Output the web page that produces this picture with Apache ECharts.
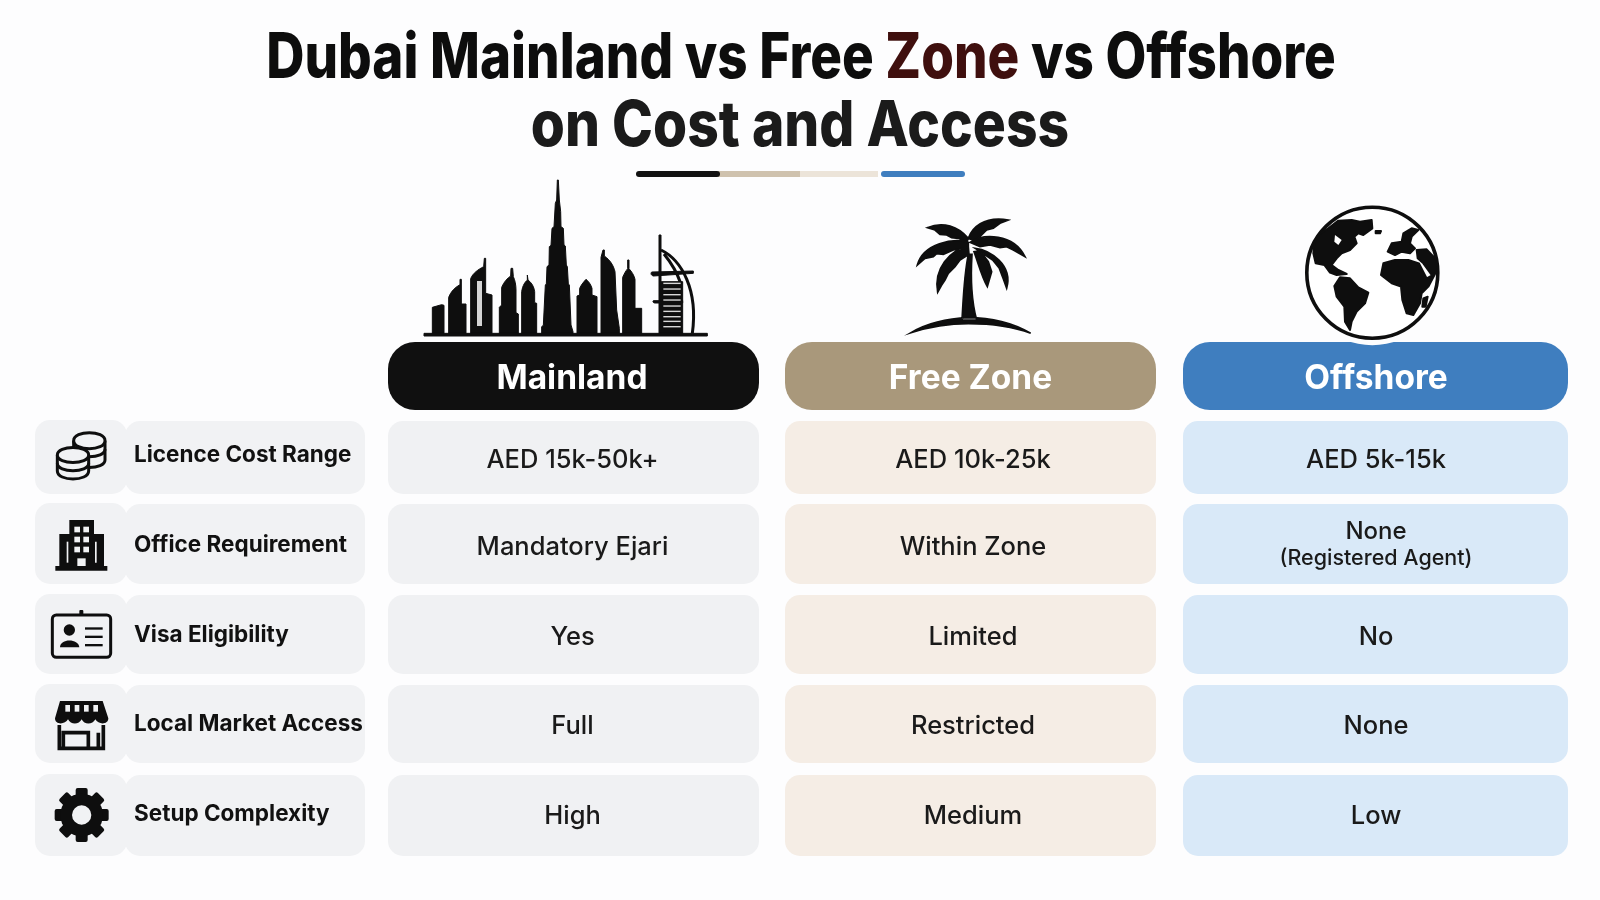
<!DOCTYPE html>
<html>
<head>
<meta charset="utf-8">
<title>Dubai Mainland vs Free Zone vs Offshore</title>
<style>html,body{margin:0;padding:0;background:#fdfdfe}#chart{width:1600px;height:900px}</style>
<script src="https://cdn.jsdelivr.net/npm/echarts@6/dist/echarts.min.js"></script>
</head>
<body>
<div id="chart"></div>
<script>
(function () {
  'use strict';

  // table content
  var columns = ['Mainland', 'Free Zone', 'Offshore'];
  var rowLabels = ['Licence Cost Range', 'Office Requirement', 'Visa Eligibility', 'Local Market Access', 'Setup Complexity'];
  var mainlandValues = ['AED 15k-50k+', 'Mandatory Ejari', 'Yes', 'Full', 'High'];
  var freeZoneValues = ['AED 10k-25k', 'Within Zone', 'Limited', 'Restricted', 'Medium'];
  var offshoreValues = ['AED 5k-15k', 'None\n(Registered Agent)', 'No', 'None', 'Low'];
  var titleLines = ['Dubai Mainland vs Free ', 'Zone', ' vs Offshore', 'on Cost and Access'];

  // layout, in axis units (the axes run 0-1600 / 0-900)
  var colLeft = [388, 785, 1183];
  var colRight = [759, 1156, 1568];
  var colText = [572.5, 973, 1376];
  var headText = [572, 970.5, 1376];
  var rowTop = [421, 504, 595, 685, 775];
  var rowBottom = [494, 584, 674, 763, 856];
  var rowText = [460, 547, 637, 726.5, 816.5];
  var labelText = [455.5, 545.5, 635.5, 724.5, 814.5];

  var headColors = ['#101010', '#a9987b', '#3f7ebf'];
  var cellColors = ['#f0f1f3', '#f5ede5', '#d9e9f8'];
  var panelColor = '#f1f2f4';
  var bgColor = '#fdfdfe';
  var FONT = 'Inter';

  // icon outlines, drawn in crop coordinates and placed with pathEl
  var skyline = [
    'M132 490H982V498H132Z',
    'M157 490V412L185 404L192 406V490Z',
    'M206 490V382C212 365 225 352 240 344V328H244V402H258V490Z',
    'M272 490V326C278 310 295 298 311 290L313 265H317V370L336 375V490Z',
    'M358 490V412L365 405V352C372 335 382 325 392 318L393 295H398L400 320C405 330 408 345 408 360V428L415 432V490Z',
    'M425 490V365C428 345 436 335 442 330V315L444 330C455 338 462 350 464 365V398L470 400V490Z',
    'M485 490V470L490 466L496 345L499 342L501 290L507 285L508 230L513 226L516 175L522 170L526 100L530 90L532 30H535L538 90L542 125L543 170L550 175L552 225L556 228L559 285L562 290L565 342L568 345L573 465L579 485V490Z',
    'M591 490V378L599 375V355C605 342 612 335 618 328C626 335 632 342 636 355V375L651 380V490Z',
    'M663 490V262L669 240H673V258C690 270 700 285 705 305L710 420L718 475V490Z',
    'M728 490V322C733 310 738 302 743 296V270H747V296C755 305 762 315 765 328V415H785V490Z',
    'M837 490V195H843V335H908V490Z',
    'M815 306L940 303V310L820 318C812 315 812 310 815 306Z',
    'M820 392H908V399H824C818 398 818 394 820 392Z'
  ].join('');
  var sailOuter = 'M843 240C905 270 955 360 937 490';
  var sailInner = 'M852 252C875 280 892 310 902 340';
  var palm = [
    'M205 148C192 210 190 280 186 345L230 345C215 290 212 210 216 148Z',
    'M33 383C90 350 150 340 205 338C275 338 340 355 392 385C340 365 270 356 205 356C150 356 90 365 33 383Z',
    'M205 100C175 65 130 48 82 68L105 75L120 88L140 90L155 98L175 100L200 112Z',
    'M205 100C215 70 250 32 325 45L300 55L280 70L260 75L245 90L225 108Z',
    'M205 112C160 98 70 115 52 180L75 160L100 155L110 146L130 148L160 135L205 128Z',
    'M210 112C250 85 340 85 375 155L340 135L320 125L300 128L270 120L240 125Z',
    'M205 125C150 135 100 190 113 262L125 240L135 225L145 205L165 185L180 165L207 148Z',
    'M225 130C270 135 340 180 320 250L310 222L298 190L278 165Z',
    'M222 140C235 175 245 215 262 245L275 200L265 170L240 138Z'
  ].join('');
  var continents = [
    'M100 85L130 62L170 60L195 65L230 60L232 85L205 105L190 100L178 110L185 130L165 150L140 160L125 175L110 195L130 210L155 222L125 225L105 218L88 195L62 190L55 160L58 130L70 105Z',
    'M118 258L135 232L165 235L190 262L220 278L210 310L185 335L170 365L165 390L150 365L148 320L125 290Z',
    'M258 225L265 190L300 180L340 180L372 190L395 235L420 222L400 260L380 280L375 310L355 345L335 340L322 300L318 260L290 250Z',
    'M278 155L290 130L320 125L325 100L350 85L370 90L350 110L345 130L360 145L345 160L320 155L300 165Z',
    'M365 150L395 148L425 180L428 215L410 225L385 190L368 175Z',
    'M385 295L398 290L392 320L382 320Z',
    'M242 93L258 93L255 100L242 100Z'
  ].join('');
  var buildingPath = 'M148 330H222V372H252V468H262V482H106V468H118V372H148Z';
  var awningPath = 'M120 873H248L265 925C265 945 235 945 226 928C218 945 192 945 185 928C177 945 152 945 144 928C135 945 105 945 105 925Z';

  function textEl(x, y, text, size, weight, color, scaleX) {
    return {
      type: 'text', x: x, y: y, scaleX: scaleX || 1, silent: true,
      style: { text: text, fill: color, align: 'center', verticalAlign: 'middle', fontFamily: FONT, fontSize: size, fontWeight: weight }
    };
  }

  function pathEl(api, ox, oy, s, d, style) {
    var p = api.coord([ox, oy]);
    return { type: 'path', x: p[0], y: p[1], scaleX: s, scaleY: s, shape: { pathData: d }, style: style };
  }

  function roundBox(api, x0, y0, x1, y1, r, fill) {
    var a = api.coord([x0, y0]), b = api.coord([x1, y1]);
    return { type: 'rect', shape: { x: a[0], y: a[1], width: b[0] - a[0], height: b[1] - a[1], r: r }, style: { fill: fill } };
  }

  function renderTitle(params, api) {
    var a = api.coord([801, 59]), b = api.coord([800, 127]);
    var line1 = textEl(a[0], a[1], '{k|' + titleLines[0] + '}{z|' + titleLines[1] + '}{k|' + titleLines[2] + '}', 63, 800, '#0d0d0d', 0.84);
    line1.style.rich = {
      k: { fill: '#0d0d0d', fontFamily: FONT, fontSize: 63, fontWeight: 800 },
      z: { fill: '#3f0f0e', fontFamily: FONT, fontSize: 63, fontWeight: 800 }
    };
    return { type: 'group', children: [line1, textEl(b[0], b[1], titleLines[3], 63, 800, '#1b1b1b', 0.875)] };
  }

  function renderDivider(params, api) {
    return {
      type: 'group', children: [
        roundBox(api, 718, 171, 800, 177, 0, '#cfc2ae'),
        roundBox(api, 800, 171, 878, 177, 0, '#ece4d9'),
        roundBox(api, 636, 171, 720, 177, 3, '#121212'),
        roundBox(api, 881, 171, 965, 177, 3, '#3f7ebf')
      ]
    };
  }

  function renderHead(params, api) {
    var i = params.dataIndex;
    var t = api.coord([headText[i], 378.5]);
    return {
      type: 'group', children: [
        roundBox(api, colLeft[i], 342, colRight[i], 410, 27, headColors[i]),
        textEl(t[0], t[1], columns[i], 33.5, 700, '#ffffff')
      ]
    };
  }

  function cellRenderer(col, values) {
    return function (params, api) {
      var i = params.dataIndex;
      var kids = [roundBox(api, colLeft[col], rowTop[i], colRight[col], rowBottom[i], 15, cellColors[col])];
      var parts = values[i].split('\n');
      var t = api.coord([colText[col], rowText[i]]);
      if (parts.length > 1) {
        kids.push(textEl(t[0], t[1] - 15, parts[0], 24, 500, '#1a1a1a'));
        kids.push(textEl(t[0], t[1] + 12, parts[1], 21.5, 500, '#1a1a1a'));
      } else {
        kids.push(textEl(t[0], t[1], parts[0], 25.5, 500, '#1a1a1a'));
      }
      return { type: 'group', children: kids };
    };
  }

  function renderLabel(params, api) {
    var i = params.dataIndex;
    var t = api.coord([134, labelText[i]]);
    var label = textEl(t[0], t[1], rowLabels[i], 22.5, 700, '#111111');
    label.style.align = 'left';
    return {
      type: 'group', children: [
        roundBox(api, 35, rowTop[i] - 1, 127, rowBottom[i], 15, panelColor),
        roundBox(api, 125, rowTop[i], 365, rowBottom[i], 15, panelColor),
        label
      ]
    };
  }

  function renderSkyline(params, api) {
    var s = 1 / 3, dark = { fill: '#0e0e0e', stroke: '#0e0e0e', lineWidth: 3 };
    var line = { fill: null, stroke: '#0e0e0e', lineWidth: 9 };
    var kids = [
      pathEl(api, 380, 170, s, skyline, dark),
      pathEl(api, 380, 170, s, sailOuter, line),
      pathEl(api, 380, 170, s, sailInner, line),
      roundBox(api, 477, 281, 482, 326, 0, '#d4d4d4')
    ];
    [338, 355, 372, 388, 406, 422, 438, 452, 468].forEach(function (y) {
      kids.push(roundBox(api, 380 + 850 / 3, 170 + y / 3, 380 + 902 / 3, 170 + y / 3 + 1.4, 0, '#d8d8d8'));
    });
    return { type: 'group', children: kids };
  }

  function renderPalm(params, api) {
    return pathEl(api, 900, 205, 1 / 3, palm, { fill: '#0e0e0e', stroke: '#0e0e0e', lineWidth: 5 });
  }

  function renderGlobe(params, api) {
    var c = api.coord([1372.3, 272.7]);
    return {
      type: 'group', children: [
        { type: 'circle', shape: { cx: c[0], cy: c[1], r: 72.5 }, style: { fill: bgColor } },
        { type: 'circle', shape: { cx: c[0], cy: c[1], r: 65.5 }, style: { fill: '#ffffff', stroke: '#0e0e0e', lineWidth: 3.6 } },
        pathEl(api, 1295, 200, 1 / 3, continents, { fill: '#0e0e0e', stroke: '#0e0e0e', lineWidth: 6, lineJoin: 'round' }),
        pathEl(api, 1295, 200, 1 / 3, 'M120 105L140 120L130 135L118 125Z', { fill: '#ffffff' })
      ]
    };
  }

  function renderIcons(params, api) {
    var s = 1 / 3, ox = 20, oy = 410, ink = '#0e0e0e', bg = panelColor;
    var stroke = { fill: bg, stroke: ink, lineWidth: 9 };
    var bare = { fill: null, stroke: ink, lineWidth: 9 };
    function p(d, style) { return pathEl(api, ox, oy, s, d, style); }
    function box(x0, y0, x1, y1, r, fill) {
      return roundBox(api, ox + x0 * s, oy + y0 * s, ox + x1 * s, oy + y1 * s, r, fill);
    }
    function dot(x, y, r, fill) {
      var c = api.coord([ox + x * s, oy + y * s]);
      return { type: 'circle', shape: { cx: c[0], cy: c[1], r: r * s }, style: { fill: fill } };
    }
    var kids = [
      // coins
      p('M161 92V150C161 180 255 180 255 150V92', stroke),
      p('M161 118C161 148 255 148 255 118', bare),
      p('M161 92C161 60 255 60 255 92C255 124 161 124 161 92Z', stroke),
      p('M112 135V183C112 215 206 215 206 183V135', stroke),
      p('M112 160C112 190 206 190 206 160', bare),
      p('M112 135C112 105 206 105 206 135C206 165 112 165 112 135Z', stroke),
      // building
      p(buildingPath, { fill: ink }),
      box(163, 350, 180, 367, 0, bg), box(190, 350, 207, 367, 0, bg),
      box(163, 380, 180, 397, 0, bg), box(190, 380, 207, 397, 0, bg),
      box(163, 410, 180, 427, 0, bg), box(190, 410, 207, 427, 0, bg),
      box(172, 445, 197, 468, 0, bg),
      box(140, 395, 145, 458, 0, bg), box(225, 395, 230, 458, 0, bg),
      // id card
      box(178, 600, 190, 620, 1, ink),
      { type: 'rect', shape: { x: ox + 97 * s, y: oy + 615 * s, width: 175 * s, height: 127 * s, r: 4 }, style: { fill: bg, stroke: ink, lineWidth: 3 } },
      dot(148, 660, 17, ink),
      p('M120 712C120 685 176 685 178 712Z', { fill: ink }),
      box(195, 652, 248, 659, 0, ink), box(195, 677, 248, 684, 0, ink), box(195, 702, 248, 709, 0, ink),
      // store
      p(awningPath, { fill: ink }),
      box(136, 885, 150, 905, 0, bg), box(164, 885, 178, 905, 0, bg), box(192, 885, 206, 905, 0, bg), box(220, 885, 234, 905, 0, bg),
      p('M118 945V1015H250V945M130 1015V968H205V1015M235 968V1015', { fill: null, stroke: ink, lineWidth: 11 })
    ];
    // gear teeth
    for (var i = 0; i < 8; i++) {
      var c = api.coord([ox + 185 * s, oy + 1215 * s]);
      kids.push({
        type: 'rect', x: c[0], y: c[1], rotation: i * Math.PI / 4,
        shape: { x: -6, y: -27, width: 12, height: 12, r: 2 }, style: { fill: ink }
      });
    }
    kids.push(dot(185, 1215, 64, ink), dot(185, 1215, 29, bg));
    return { type: 'group', children: kids };
  }

  function customSeries(name, data, renderItem) {
    return {
      type: 'custom', name: name, coordinateSystem: 'cartesian2d', silent: true, clip: false,
      animation: false, encode: { x: 0, y: 1 }, data: data, renderItem: renderItem
    };
  }

  function indexData(list) {
    return list.map(function (v, i) { return [i, i]; });
  }

  var chart = echarts.init(document.getElementById('chart'), null, { renderer: 'canvas' });
  chart.setOption({
    backgroundColor: bgColor,
    animation: false,
    grid: { left: 0, right: 0, top: 0, bottom: 0 },
    xAxis: { type: 'value', min: 0, max: 1600, show: false },
    yAxis: { type: 'value', min: 0, max: 900, inverse: true, show: false },
    series: [
      customSeries('Title', [[0, 0]], renderTitle),
      customSeries('Divider', [[0, 0]], renderDivider),
      customSeries('Skyline', [[0, 0]], renderSkyline),
      customSeries('Palm', [[0, 0]], renderPalm),
      customSeries('Headers', indexData(columns), renderHead),
      customSeries('Globe', [[0, 0]], renderGlobe),
      customSeries('Row labels', indexData(rowLabels), renderLabel),
      customSeries('Icons', [[0, 0]], renderIcons),
      customSeries(columns[0], indexData(mainlandValues), cellRenderer(0, mainlandValues)),
      customSeries(columns[1], indexData(freeZoneValues), cellRenderer(1, freeZoneValues)),
      customSeries(columns[2], indexData(offshoreValues), cellRenderer(2, offshoreValues))
    ]
  });
})();
</script>
</body>
</html>
